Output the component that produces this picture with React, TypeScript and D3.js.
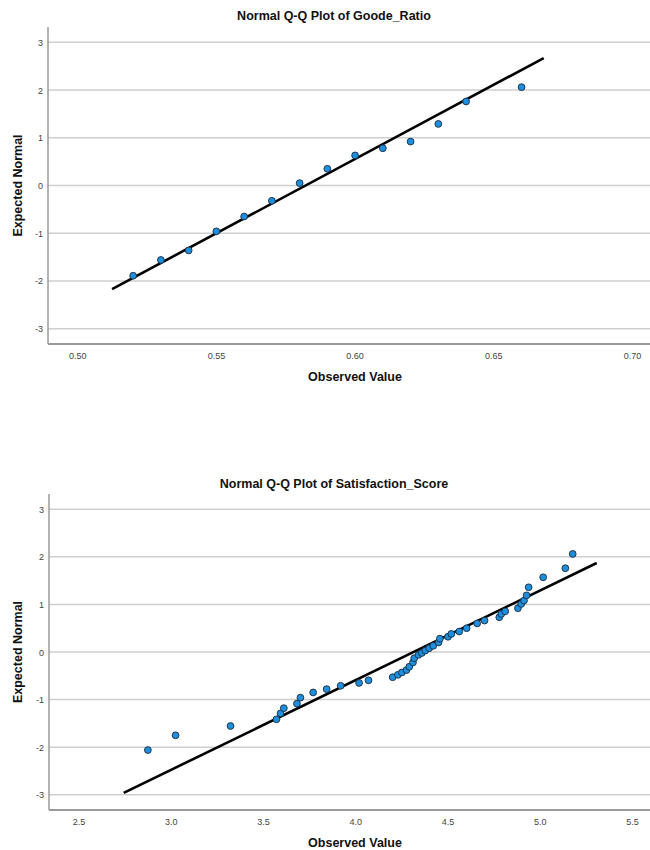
import React from "react";
import * as d3 from "d3";

// ---- Goode_Ratio data ----
const goodeObserved = [0.52, 0.53, 0.54, 0.55, 0.56, 0.57, 0.58, 0.59, 0.60, 0.61, 0.62, 0.63, 0.64, 0.66];
const goodeExpected = [-1.89, -1.56, -1.36, -0.96, -0.65, -0.32, 0.05, 0.35, 0.63, 0.78, 0.92, 1.29, 1.76, 2.06];
const goodeLineX = [0.5124, 0.668];
const goodeLineY = [-2.17, 2.67];
const goodeXTicks = [0.5, 0.55, 0.6, 0.65, 0.7];

// ---- Satisfaction_Score data ----
const satObserved = [
  2.873, 3.023, 3.321, 3.57, 3.592, 3.61, 3.681, 3.7, 3.769, 3.842,
  3.918, 4.018, 4.069, 4.2, 4.228, 4.25, 4.275, 4.29, 4.31, 4.317,
  4.34, 4.358, 4.377, 4.398, 4.42, 4.449, 4.456, 4.5, 4.518, 4.561,
  4.601, 4.658, 4.698, 4.778, 4.789, 4.81, 4.879, 4.897, 4.912, 4.926,
  4.937, 5.016, 5.136, 5.176,
];
const satExpected = [
  -2.06, -1.75, -1.555, -1.415, -1.29, -1.18, -1.085, -0.96, -0.85, -0.78,
  -0.71, -0.65, -0.595, -0.53, -0.48, -0.43, -0.38, -0.31, -0.22, -0.13,
  -0.06, -0.02, 0.03, 0.08, 0.13, 0.2, 0.28, 0.32, 0.38, 0.43,
  0.5, 0.6, 0.66, 0.73, 0.8, 0.855, 0.92, 1.01, 1.08, 1.19,
  1.36, 1.57, 1.76, 2.06,
];
const satLineX = [2.742, 5.306];
const satLineY = [-2.96, 1.87];
const satXTicks = [2.5, 3.0, 3.5, 4.0, 4.5, 5.0, 5.5];

const yTicks = [-3, -2, -1, 0, 1, 2, 3];

const FONT = "'Liberation Sans', Arial, sans-serif";

type PanelProps = {
  title: string;
  obs: number[];
  exp: number[];
  lineX: number[];
  lineY: number[];
  xDomain: [number, number];
  xTicks: number[];
  xFmt: string;
  left: number;
  top: number;
  bottom: number;
  right: number;
  titleY: number;
};

function Panel(p: PanelProps) {
  const x = d3.scaleLinear().domain(p.xDomain).range([p.left, p.right]);
  const y = d3.scaleLinear().domain([-3.32, 3.32]).range([p.bottom, p.top]);
  const fmt = d3.format(p.xFmt);
  const line = d3
    .line<number>()
    .x((_, i) => x(p.lineX[i]))
    .y((_, i) => y(p.lineY[i]));
  const midY = (p.top + p.bottom) / 2;
  return (
    <g>
      <text x={334} y={p.titleY} textAnchor="middle" fontFamily={FONT} fontWeight="bold" fontSize={12.5} fill="#111">
        {p.title}
      </text>
      {yTicks.map((t) => (
        <line key={"g" + t} x1={p.left} x2={p.right} y1={y(t)} y2={y(t)} stroke="#cfcfcf" strokeWidth={1.5} />
      ))}
      {yTicks.map((t) => (
        <text key={"yl" + t} x={p.left - 5} y={y(t) + 3.5} textAnchor="end" fontFamily={FONT} fontSize={9} fill="#444">
          {t}
        </text>
      ))}
      {p.xTicks.map((t) => (
        <text key={"xl" + t} x={x(t)} y={p.bottom + 15} textAnchor="middle" fontFamily={FONT} fontSize={9} fill="#444">
          {fmt(t)}
        </text>
      ))}
      <line x1={p.left} x2={p.left} y1={p.top} y2={p.bottom} stroke="#9a9a9a" strokeWidth={1.5} />
      <line x1={p.left} x2={p.right} y1={p.bottom} y2={p.bottom} stroke="#9a9a9a" strokeWidth={2} />
      <path d={line(p.lineX) || ""} stroke="#000" strokeWidth={2.6} fill="none" />
      {p.obs.map((v, i) => (
        <circle key={"c" + i} cx={x(v)} cy={y(p.exp[i])} r={3.4} fill="#1e8fde" stroke="#1a2a3a" strokeWidth={0.9} />
      ))}
      <text x={355} y={p.bottom + 37} textAnchor="middle" fontFamily={FONT} fontWeight="bold" fontSize={12.5} fill="#111">
        Observed Value
      </text>
      <text
        transform={`translate(22,${midY}) rotate(-90)`}
        textAnchor="middle"
        fontFamily={FONT}
        fontWeight="bold"
        fontSize={12.5}
        fill="#111"
      >
        Expected Normal
      </text>
    </g>
  );
}

export default function App() {
  return (
    <svg width={650} height={850} style={{ position: "absolute", left: 0, top: 0, background: "#fff" }}>
      <rect width={650} height={850} fill="#fff" />
      <Panel
        title="Normal Q-Q Plot of Goode_Ratio"
        obs={goodeObserved}
        exp={goodeExpected}
        lineX={goodeLineX}
        lineY={goodeLineY}
        xDomain={[0.4893, 0.7063]}
        xTicks={goodeXTicks}
        xFmt=".2f"
        left={48}
        right={650}
        top={27}
        bottom={344}
        titleY={20}
      />
      <Panel
        title="Normal Q-Q Plot of Satisfaction_Score"
        obs={satObserved}
        exp={satExpected}
        lineX={satLineX}
        lineY={satLineY}
        xDomain={[2.337, 5.595]}
        xTicks={satXTicks}
        xFmt=".1f"
        left={49}
        right={650}
        top={494}
        bottom={810}
        titleY={488}
      />
    </svg>
  );
}
